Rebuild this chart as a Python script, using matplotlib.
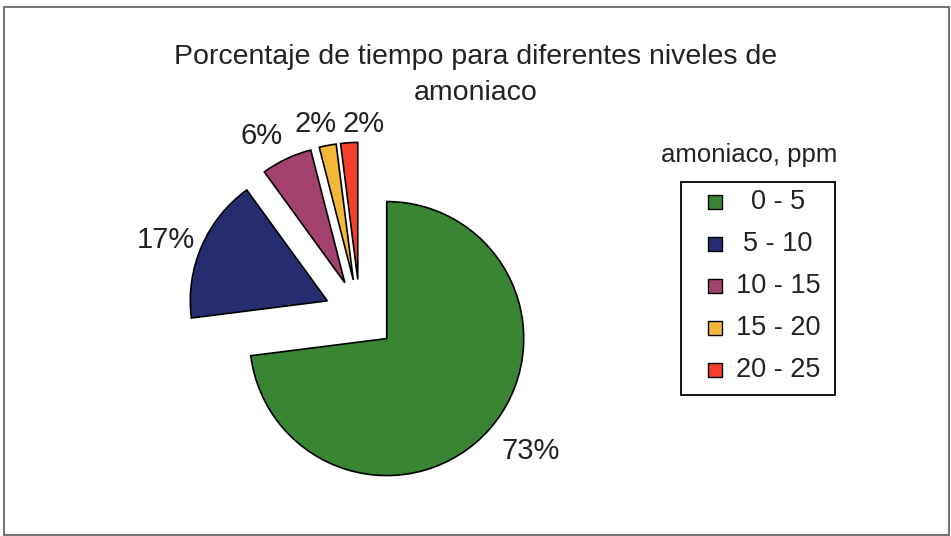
import matplotlib
matplotlib.use("Agg")
import matplotlib.pyplot as plt
from matplotlib.patches import Rectangle

plt.rcParams['font.family'] = ['Liberation Sans', 'DejaVu Sans']

# datos
niveles = ["0 - 5", "5 - 10", "10 - 15", "15 - 20", "20 - 25"]
porcentajes = [73, 17, 6, 2, 2]
colores = ["#3a8533", "#262d6e", "#a3416f", "#f2b83a", "#f4402a"]
separacion = [0.26, 0.26, 0.26, 0.26, 0.26]

titulo = "Porcentaje de tiempo para diferentes niveles de\namoniaco"
titulo_leyenda = "amoniaco, ppm"

W, H = 951, 536
R = 137
fig = plt.figure(figsize=(W / 100, H / 100), dpi=100)
ax = fig.add_axes([0, 0, 1, 1])

# pastel en coordenadas de pixel (explode de matplotlib no escala con el radio)
wedges, textos, pcts = ax.pie(porcentajes, colors=colores,
                              explode=[s * R for s in separacion],
                              startangle=90, counterclock=False,
                              radius=R, center=(360, H - 315),
                              autopct='%1.0f%%', pctdistance=1.29,
                              wedgeprops=dict(edgecolor='black', linewidth=1.2),
                              textprops=dict(fontsize=21, color='#222222'))

# ajuste de etiquetas (Excel las acomoda a su manera), en pixeles
ajustes = [(11, 4), (1, -9), (-8, -13), (-5, -18), (17, -21)]
for t, (dx, dy) in zip(pcts, ajustes):
    x, y = t.get_position()
    t.set_position((x + dx, y + dy))

ax.set_xlim(0, W)
ax.set_ylim(0, H)
ax.set_aspect('equal')
ax.axis('off')

# marco del grafico
ax.add_patch(Rectangle((4, 1), W - 6, H - 8, fill=False, edgecolor='#777777', linewidth=1.5))

ax.text(476, H - 75, titulo, ha='center', va='center', fontsize=20.5,
        color='#222222', linespacing=1.45)

# leyenda
ax.text(749, H - 155, titulo_leyenda, ha='center', va='center', fontsize=18.5, color='#222222')
ax.add_patch(Rectangle((681, H - 395), 154, 213, fill=False, edgecolor='black', linewidth=1.3))
for i, (nivel, color) in enumerate(zip(niveles, colores)):
    yy = H - 202 - 42 * i
    ax.add_patch(Rectangle((708, yy - 7), 14, 14, facecolor=color, edgecolor='black', linewidth=1))
    ax.text(778, yy, nivel, ha='center', va='center', fontsize=19.5, color='#222222')

fig.savefig("out.png", dpi=100)
